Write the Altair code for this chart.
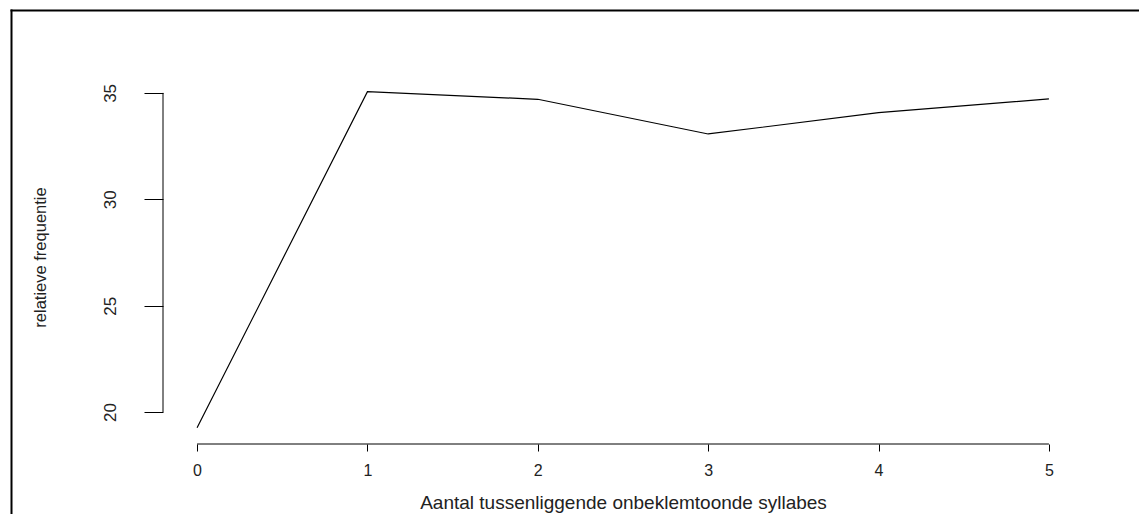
import altair as alt
import pandas as pd

# Data
syllables = [0, 1, 2, 3, 4, 5]
rel_freq = [19.26, 35.06, 34.70, 33.07, 34.07, 34.72]

x_ticks = [0, 1, 2, 3, 4, 5]
y_ticks = [20, 25, 30, 35]

x_title = "Aantal tussenliggende onbeklemtoonde syllabes"
y_title = "relatieve frequentie"

df = pd.DataFrame({"x": syllables, "y": rel_freq})

W, H = 920, 366
FONT = "Liberation Sans"

xscale = alt.Scale(domain=[-0.2, 5.2], nice=False, zero=False)
yscale = alt.Scale(domain=[18.5, 35.7], nice=False, zero=False)

line = alt.Chart(df).mark_line(color="black", strokeWidth=1.2).encode(
    x=alt.X("x:Q", scale=xscale,
            axis=alt.Axis(values=x_ticks, format="d", domain=False, grid=False,
                          tickSize=7, tickColor="black", labelColor="#222",
                          labelFont=FONT, labelFontSize=16, labelBaseline="alphabetic",
                          labelPadding=24, title=x_title, titleFont=FONT,
                          titleFontSize=19, titleFontWeight="normal", titleColor="#222",
                          titleBaseline="alphabetic", titleY=64, titlePadding=0)),
    y=alt.Y("y:Q", scale=yscale,
            axis=alt.Axis(values=y_ticks, format="d", domain=False, grid=False,
                          tickSize=19, tickColor="black", labelColor="#222",
                          labelFont=FONT, labelFontSize=17, labelAngle=270,
                          labelAlign="center", labelBaseline="alphabetic",
                          labelPadding=29, title=y_title, titleFont=FONT,
                          titleFontSize=16.5, titleFontWeight="normal", titleColor="#222",
                          titleAngle=270, titleAlign="center", titleBaseline="alphabetic",
                          titleX=-118, titleY=179)),
)

yline = alt.Chart(pd.DataFrame({"a": [0]})).mark_rule(color="black", strokeWidth=1).encode(
    x=alt.value(0),
    y=alt.datum(20, scale=yscale),
    y2=alt.datum(35),
)

xline = alt.Chart(pd.DataFrame({"a": [0]})).mark_rule(color="black", strokeWidth=1).encode(
    y=alt.value(H),
    x=alt.datum(0, scale=xscale),
    x2=alt.datum(5),
)

one = pd.DataFrame({"a": [0]})
frame_left = alt.Chart(one).mark_rule(color="black", strokeWidth=2).encode(
    x=alt.value(-151.5), y=alt.value(-68.5), y2=alt.value(1000),
)
frame_top = alt.Chart(one).mark_rule(color="black", strokeWidth=2).encode(
    y=alt.value(-67.5), x=alt.value(-152.5), x2=alt.value(2000),
)

chart = alt.layer(frame_left, frame_top, line, yline, xline).properties(
    width=W, height=H,
    background="white",
    autosize=alt.AutoSizeParams(type="none"),
    padding={"left": 155, "top": 70, "right": 56, "bottom": 70},
).configure_view(strokeWidth=0)

chart.save("out.html", embed_options={"renderer": "svg", "actions": False})
